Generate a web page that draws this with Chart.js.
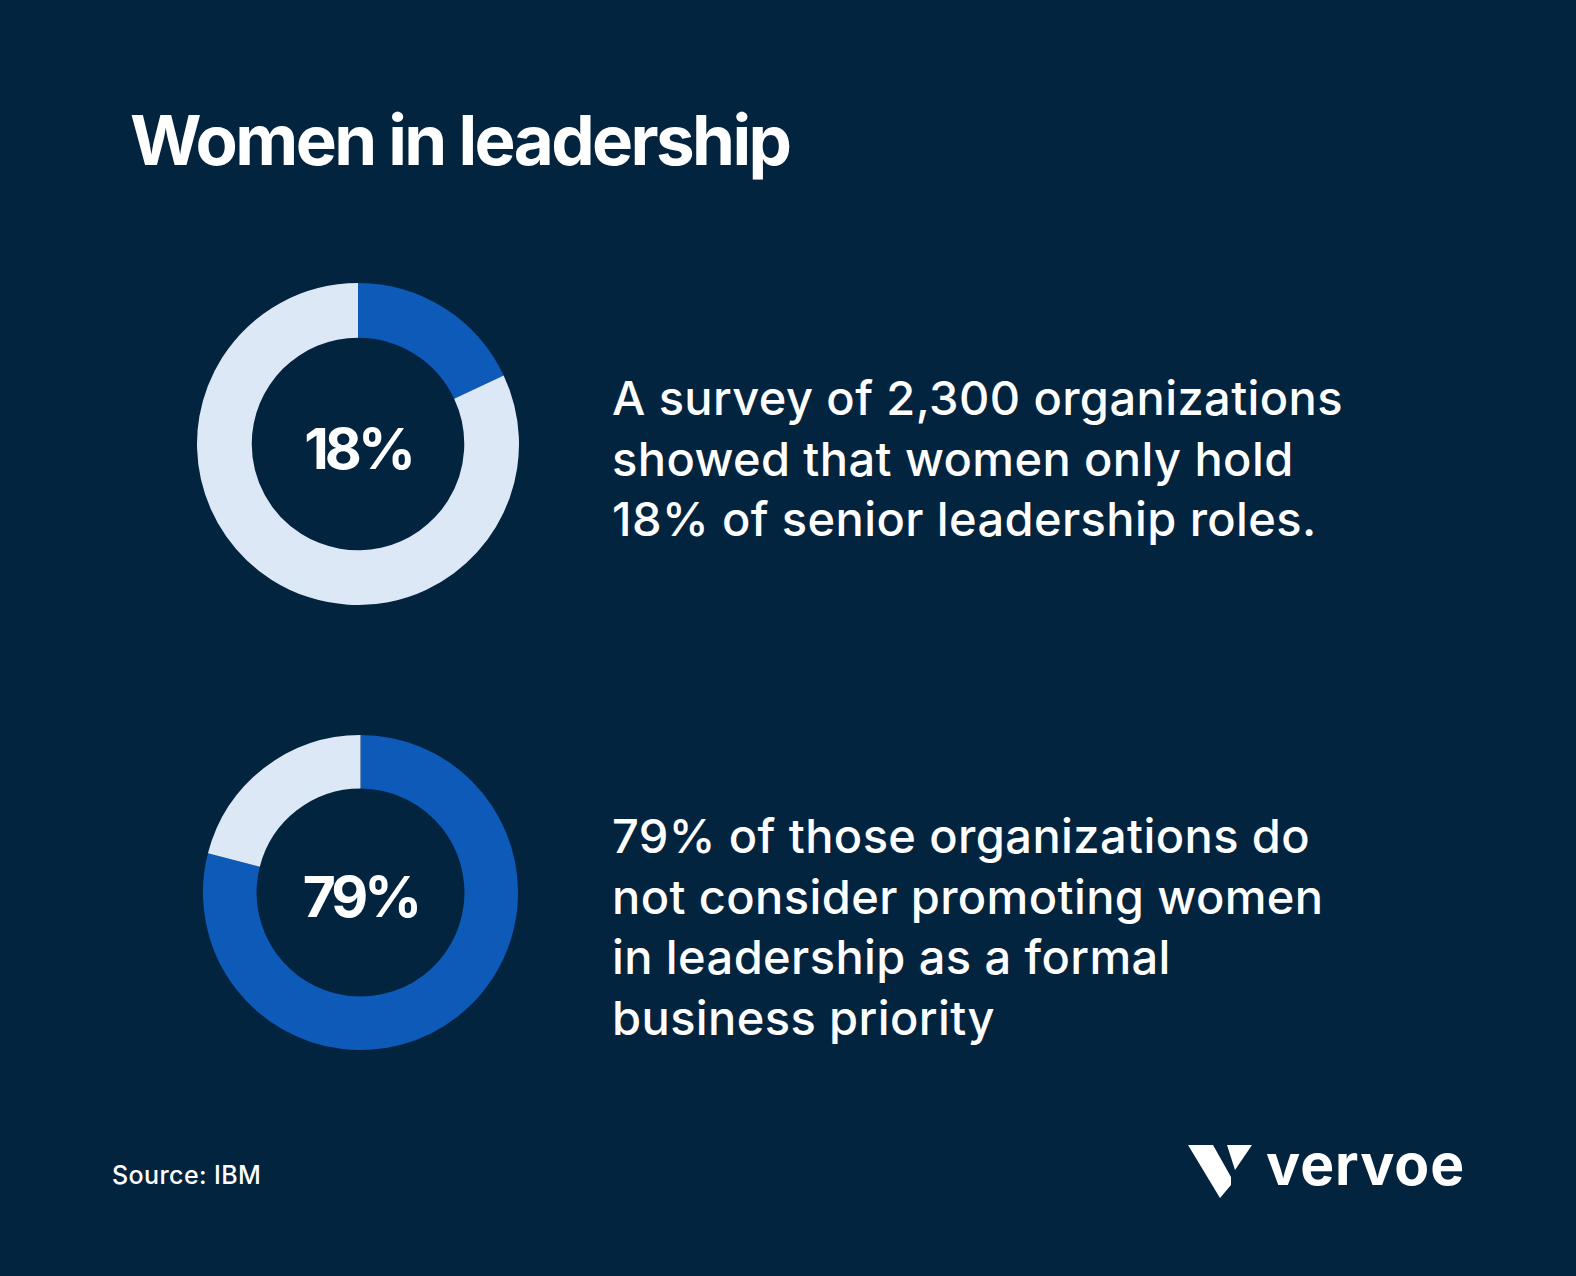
<!DOCTYPE html>
<html>
<head>
<meta charset="utf-8">
<script src="https://cdn.jsdelivr.net/npm/chart.js@4"></script>
<style>
  html, body { margin: 0; padding: 0; }
  body {
    width: 1576px; height: 1276px; overflow: hidden;
    background: #03243f; color: #fff;
    font-family: Inter, "Noto Sans", sans-serif;
    position: relative;
  }
  .abs { position: absolute; white-space: nowrap; }
  #title { left: 130px; top: 105px; font-size: 69px; line-height: 70px; font-weight: 700; letter-spacing: -2.6px; }
  .body-text { font-size: 47px; line-height: 60.5px; font-weight: 500; letter-spacing: 0.4px; }
  #text1 { left: 612px; top: 368px; }
  #text2 { left: 612px; top: 806px; }
  #source { left: 112px; top: 1160px; font-size: 25px; line-height: 30px; font-weight: 500; letter-spacing: 0.4px; }
  #logoText { left: 1266px; top: 1130px; font-size: 57px; line-height: 70px; font-weight: 700; letter-spacing: 1px; }
  canvas { position: absolute; }
</style>
</head>
<body>

<div id="title" class="abs">Women in leadership</div>

<canvas id="chart1" width="322" height="322" style="left:197px; top:283px;"></canvas>
<canvas id="chart2" width="315" height="315" style="left:203px; top:735px;"></canvas>

<div id="text1" class="abs body-text">A survey of 2,300 organizations<br>showed that women only hold<br>18% of senior leadership roles.</div>
<div id="text2" class="abs body-text">79% of those organizations do<br>not consider promoting women<br>in leadership as a formal<br>business priority</div>

<div id="source" class="abs">Source: IBM</div>

<svg class="abs" style="left:1180px; top:1138px;" width="80" height="70" viewBox="1180 1138 80 70">
  <polygon fill="#fff" points="1188,1145 1213,1145 1231,1177 1231,1185 1220,1198"/>
  <polygon fill="#fff" points="1227,1145 1252,1145 1235,1170"/>
</svg>
<div id="logoText" class="abs">vervoe</div>

<script>
// women in senior leadership roles
var LEADERSHIP_LABELS = ['Women', 'Other'];
var LEADERSHIP_VALUES = [18, 82];

// organizations treating women's promotion as a formal priority
var PRIORITY_LABELS = ['Not a formal priority', 'Formal priority'];
var PRIORITY_VALUES = [79, 21];

var BLUE = '#0e5ab8';
var LIGHT = '#dce8f6';

// draws the big percentage in the hole of the doughnut
var centerLabel = {
    id: 'centerLabel',
    afterDraw: function (chart, args, opts) {
        var meta = chart.getDatasetMeta(0).data[0];
        var ctx = chart.ctx;
        ctx.save();
        ctx.font = '700 ' + opts.size + 'px Inter, "Noto Sans", sans-serif';
        ctx.letterSpacing = '-4px';
        ctx.fillStyle = '#fff';
        ctx.textAlign = 'center';
        ctx.textBaseline = 'alphabetic';
        ctx.fillText(opts.text, meta.x, meta.y + opts.size * 0.43);
        ctx.restore();
    }
};

function createDoughnut(id, labels, values, text) {
    return new Chart(document.getElementById(id).getContext('2d'), {
        type: 'doughnut',
        data: {
            labels: labels,
            datasets: [{
                data: values,
                backgroundColor: [BLUE, LIGHT],
                borderWidth: 0,
                hoverOffset: 0,
                offset: 0
            }]
        },
        options: {
            responsive: false,
            animation: false,
            events: [],
            cutout: '66%',
            layout: { padding: 0 },
            plugins: {
                legend: { display: false },
                tooltip: { enabled: false },
                centerLabel: { text: text, size: 57 }
            }
        },
        plugins: [centerLabel]
    });
}

createDoughnut('chart1', LEADERSHIP_LABELS, LEADERSHIP_VALUES, LEADERSHIP_VALUES[0] + '%');
createDoughnut('chart2', PRIORITY_LABELS, PRIORITY_VALUES, PRIORITY_VALUES[0] + '%');
</script>
</body>
</html>
